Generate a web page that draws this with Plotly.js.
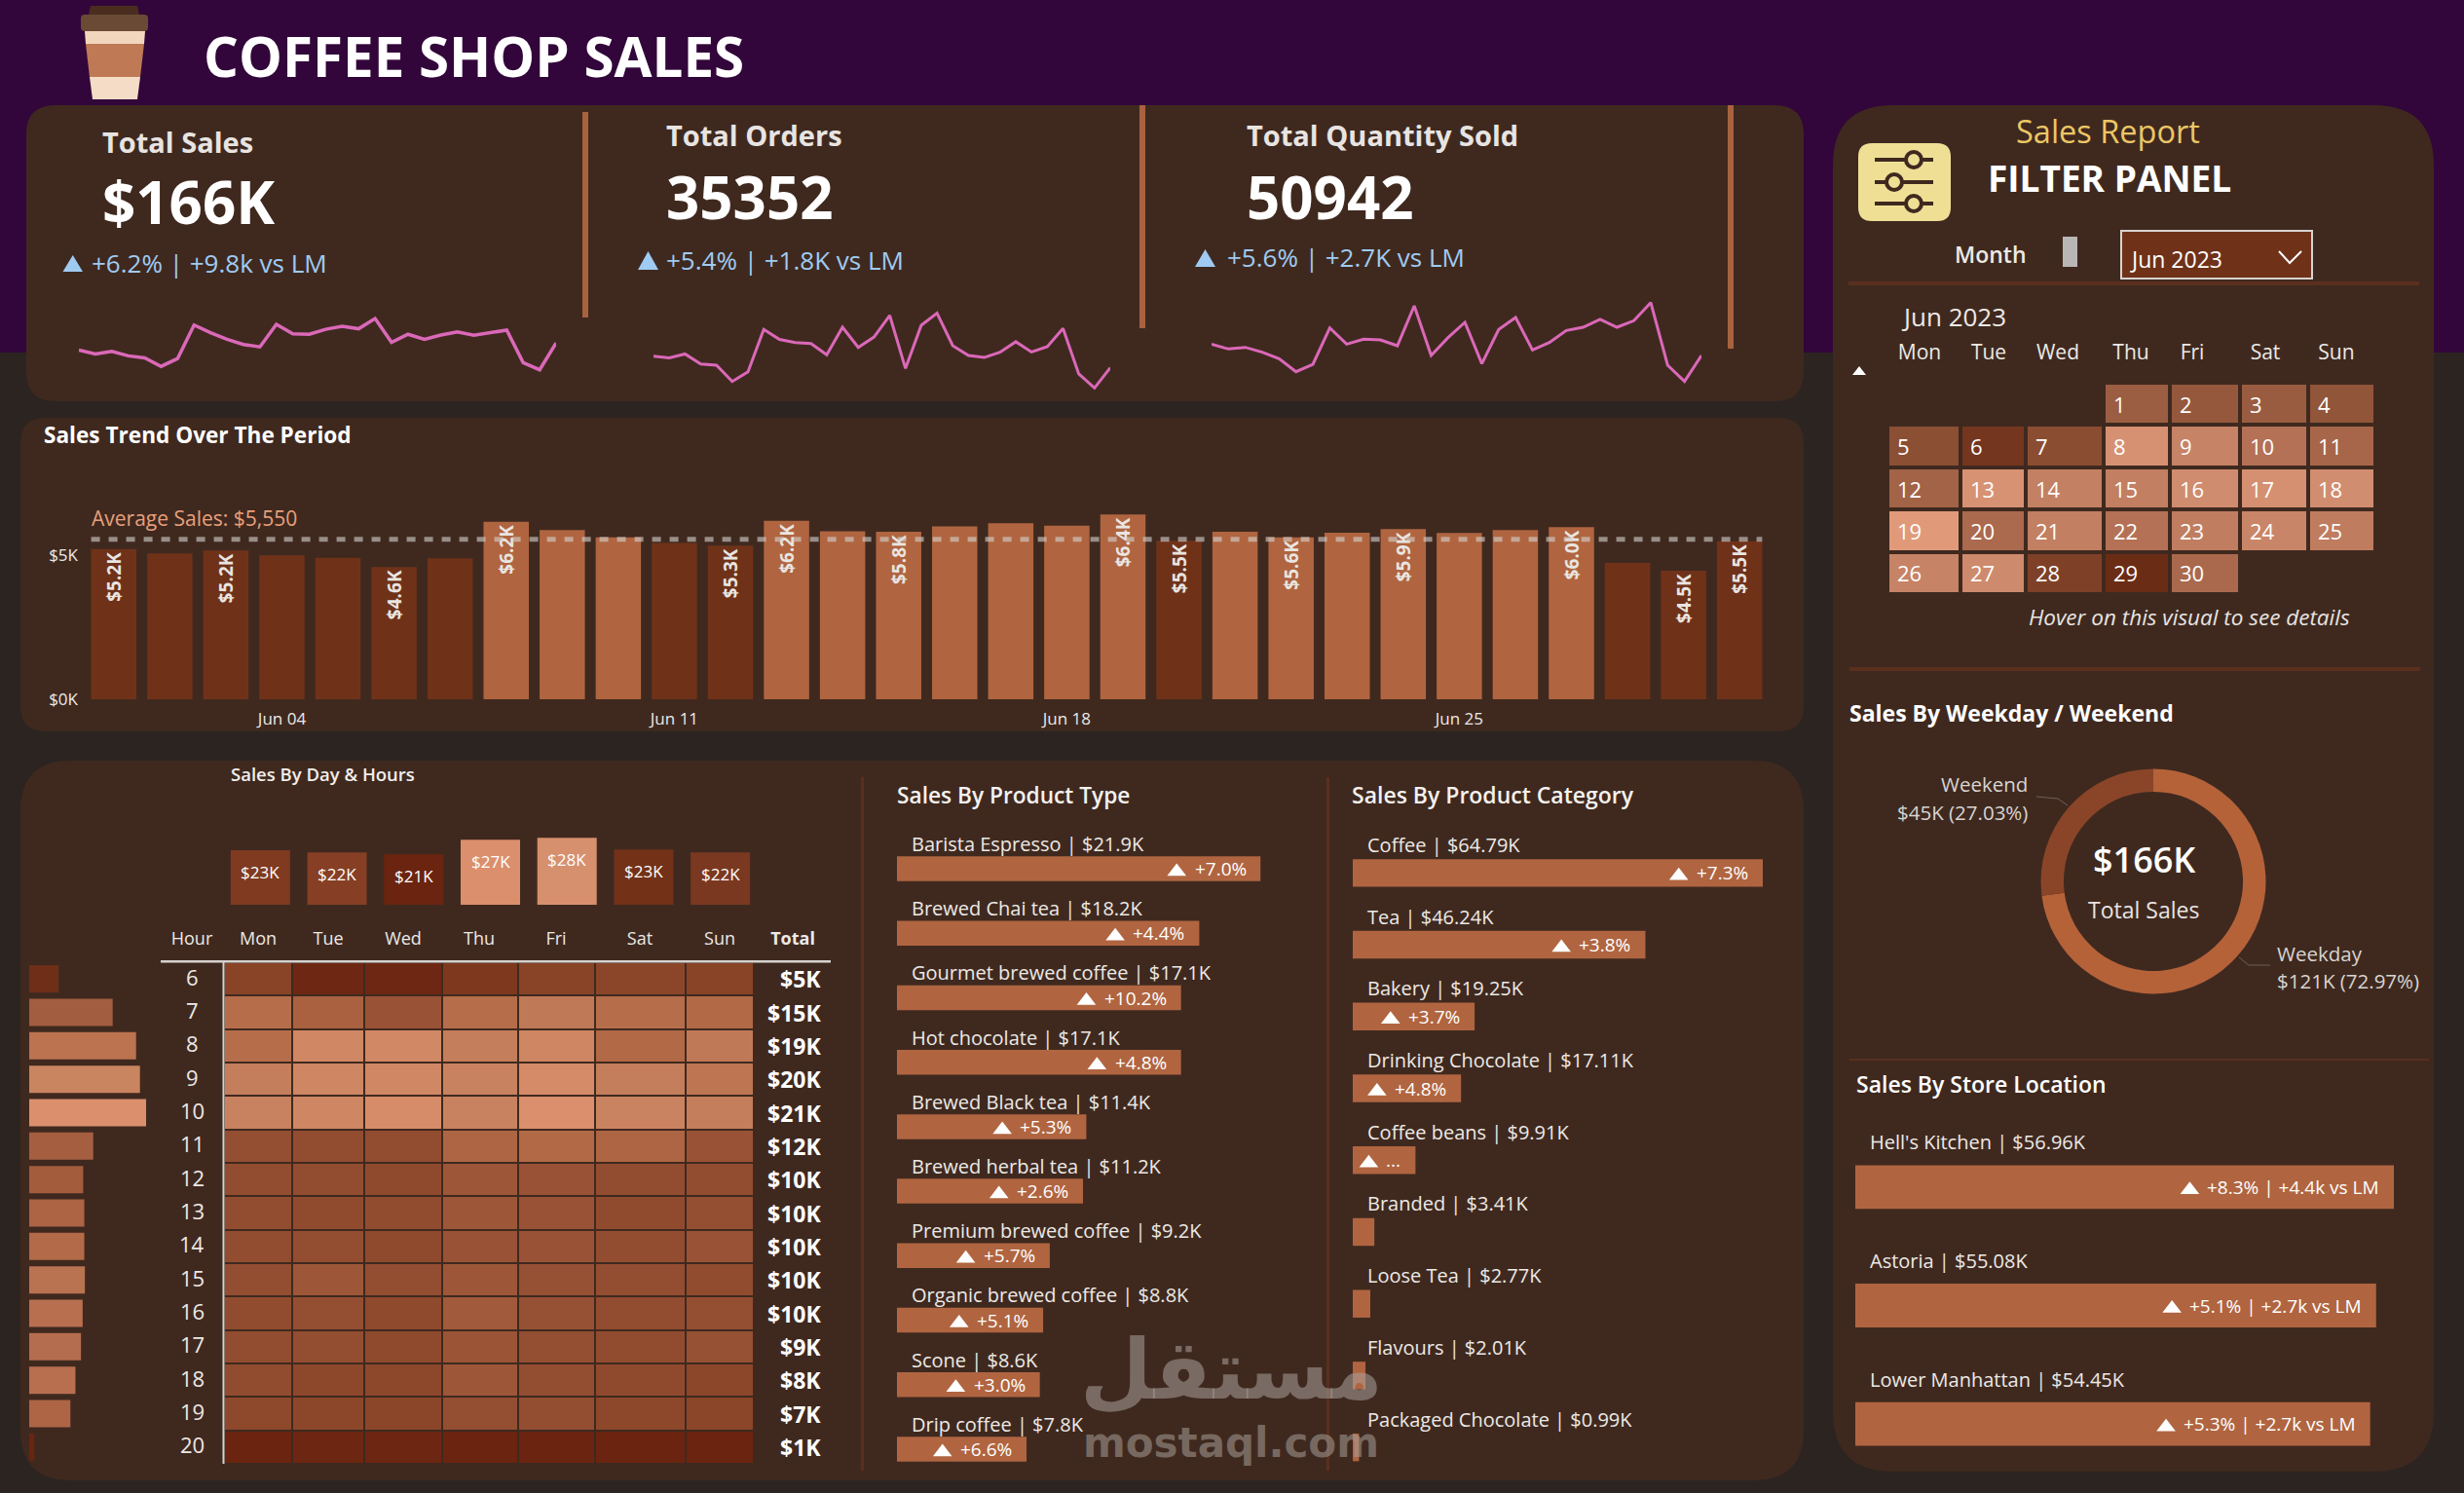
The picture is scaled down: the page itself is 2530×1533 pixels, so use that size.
<!DOCTYPE html>
<html><head><meta charset="utf-8">
<script src="https://cdn.plot.ly/plotly-3.0.1.min.js"></script>
<style>html,body{margin:0;padding:0;background:#2C2420}#c{width:2530px;height:1533px}</style>
</head><body><div id="c"></div>
<script>
// ---------- DATA ----------
const dailySales=[5.21,5.06,5.16,4.99,4.91,4.59,4.89,6.16,5.87,5.62,5.42,5.33,6.19,5.83,5.81,6.0,6.11,6.02,6.41,5.5,5.81,5.62,5.78,5.9,5.77,5.87,5.97,4.73,4.46,5.48];
const labeledDays=[1,3,6,8,12,13,15,19,20,22,24,27,29,30];
const averageSales=5.55;
const dailyOrders=[1149,1142,1158,1118,1113,1048,1087,1256,1216,1204,1200,1155,1265,1184,1226,1312,1100,1273,1321,1191,1152,1144,1165,1207,1166,1187,1260,1078,1022,1103];
const dailyQuantity=[1698,1668,1678,1648,1608,1528,1574,1798,1698,1728,1724,1688,1934,1628,1738,1832,1578,1788,1862,1662,1708,1782,1802,1850,1802,1842,1954,1568,1468,1628];
const kpiNames=["Total Sales","Total Orders","Total Quantity Sold"];
const kpiValues=["$166K","35352","50942"];
const kpiDeltas=["+6.2% | +9.8k vs LM","+5.4% | +1.8K vs LM","+5.6% | +2.7K vs LM"];
const weekdayNames=["Mon","Tue","Wed","Thu","Fri","Sat","Sun"];
const hours=[6,7,8,9,10,11,12,13,14,15,16,17,18,19,20];
const hourDaySales=[
[.85,.35,.35,.65,.85,.9,.85],
[2.2,1.9,1.5,2.2,2.5,2.2,2.1],
[2.2,3.1,3.2,2.6,3.0,2.1,2.5],
[2.6,3.0,3.1,2.7,3.4,2.6,2.4],
[2.7,3.0,3.5,2.7,3.7,2.8,2.6],
[1.4,1.3,1.3,2.0,2.1,2.0,1.5],
[1.3,1.3,1.15,1.6,1.5,1.3,1.3],
[1.3,1.2,1.25,1.6,1.5,1.2,1.4],
[1.3,1.35,1.15,1.5,1.5,1.3,1.5],
[1.35,1.6,1.35,1.6,1.45,1.35,1.25],
[1.25,1.4,1.1,1.7,1.45,1.3,1.4],
[1.3,1.35,1.1,1.55,1.4,1.25,1.45],
[1.25,1.0,1.0,1.6,1.35,1.15,.95],
[1.05,.95,.9,1.4,1.35,1.0,.9],
[.15,.3,.3,.15,.15,.15,.15]];
const hourTotals=[5.3,15,19.2,19.9,21,11.5,9.7,9.9,9.9,10,9.6,9.3,8.3,7.4,0.9];
const dayTotals=[23,22.1,21.3,27.4,28.3,23.3,22.1];
const productTypes=["Barista Espresso","Brewed Chai tea","Gourmet brewed coffee","Hot chocolate","Brewed Black tea","Brewed herbal tea","Premium brewed coffee","Organic brewed coffee","Scone","Drip coffee"];
const productTypeSales=[21.9,18.2,17.1,17.1,11.4,11.2,9.2,8.8,8.6,7.8];
const productTypeDelta=["+7.0%","+4.4%","+10.2%","+4.8%","+5.3%","+2.6%","+5.7%","+5.1%","+3.0%","+6.6%"];
const categories=["Coffee","Tea","Bakery","Drinking Chocolate","Coffee beans","Branded","Loose Tea","Flavours","Packaged Chocolate"];
const categorySales=[64.79,46.24,19.25,17.11,9.91,3.41,2.77,2.01,0.99];
const categoryDelta=["+7.3%","+3.8%","+3.7%","+4.8%","...",null,null,null,null];
const stores=["Hell's Kitchen","Astoria","Lower Manhattan"];
const storeSales=[56.96,55.08,54.45];
const storeDelta=["+8.3% | +4.4k vs LM","+5.1% | +2.7k vs LM","+5.3% | +2.7k vs LM"];
const weekSplitLabels=["Weekday","Weekend"];
const weekSplitValues=[72.97,27.03];

// ---------- LAYOUT HELPERS ----------
const W=2530,H=1533,FONT='"Open Sans","Noto Sans",sans-serif';
const PANEL='#3F291F',LIGHT='#B06540',DARK='#6F3219',SEP='#5A2F1E',TXT='#EDE9E6';
const fx=x=>x/W, fy=y=>1-y/H;
const shapes=[],annotations=[],traces=[],axes={};
const measureCtx=document.createElement('canvas').getContext('2d');
const textWidth=(s,size)=>{measureCtx.font=size+'px "Open Sans"';return measureCtx.measureText(s).width;};
function rr(x0,y0,x1,y1,r,fill,layer){
  const p=(x,y)=>fx(x)+','+fy(y);
  shapes.push({type:'path',xref:'paper',yref:'paper',layer:layer||'below',fillcolor:fill,line:{width:0},
   path:`M${p(x0+r,y0)} L${p(x1-r,y0)} Q${p(x1,y0)} ${p(x1,y0+r)} L${p(x1,y1-r)} Q${p(x1,y1)} ${p(x1-r,y1)} L${p(x0+r,y1)} Q${p(x0,y1)} ${p(x0,y1-r)} L${p(x0,y0+r)} Q${p(x0,y0)} ${p(x0+r,y0)} Z`});
}
function poly(pts,fill,layer,line){
  const s=pts.map((q,i)=>(i?'L':'M')+fx(q[0])+','+fy(q[1])).join(' ')+(fill?' Z':'');
  shapes.push({type:'path',xref:'paper',yref:'paper',layer:layer||'below',path:s,fillcolor:fill||'rgba(0,0,0,0)',line:line||{width:0}});
}
function box(x0,y0,x1,y1,fill,layer,line){
  shapes.push({type:'rect',xref:'paper',yref:'paper',layer:layer||'below',x0:fx(x0),x1:fx(x1),y0:fy(y0),y1:fy(y1),fillcolor:fill,line:line||{width:0}});
}
function T(text,x,y,size,o){o=o||{};
  const a=o.anchor||'left';
  annotations.push({text,xref:'paper',yref:'paper',x:fx(a==='left'?x-2.5:x),y:fy(y),xanchor:a,yanchor:'middle',showarrow:false,
   font:{family:o.family||FONT,size,color:o.color||TXT,weight:o.weight||400,style:o.style||'normal'}});
}
function A(n,text,x,y,size,o){o=o||{};
  annotations.push({text,xref:'x'+n,yref:'y'+n,x,y,xanchor:o.anchor||'left',yanchor:'middle',xshift:o.dx||0,yshift:o.dy||0,showarrow:false,
   font:{family:FONT,size,color:o.color||TXT,weight:o.weight||400}});
}
function sub(n,dx,dy,xo,yo){
  axes['xaxis'+n]=Object.assign({domain:[fx(dx[0]),fx(dx[1])],anchor:'y'+n,visible:false,fixedrange:true},xo||{});
  axes['yaxis'+n]=Object.assign({domain:[fy(dy[1]),fy(dy[0])],anchor:'x'+n,visible:false,fixedrange:true},yo||{});
  return {xaxis:'x'+n,yaxis:'y'+n};
}
const hbarLabels=(n,names,vals,deltas,fmt,labelUp,labelRight,deltaSize,labelSize,pxPerUnit,rowPx)=>{
  const tx=[],ty=[];
  names.forEach((nm,i)=>{
    A(n,nm+' | $'+vals[i].toFixed(fmt)+'K',0,i,labelSize,{dx:labelRight,dy:labelUp});
    if(deltas[i]){
      A(n,deltas[i],vals[i],i,deltaSize,{anchor:'right',dx:-13,color:'#FFFFFF'});
      tx.push(vals[i]-(13+textWidth(deltas[i],deltaSize)+20)/pxPerUnit);ty.push(i+3/rowPx);
    }
  });
  traces.push({type:'scatter',mode:'markers',xaxis:'x'+n,yaxis:'y'+n,x:tx,y:ty,hoverinfo:'skip',cliponaxis:false,
    marker:{symbol:'triangle-up',size:17,color:'#FFFFFF',line:{width:0}}});
};

// ---------- BACKGROUND / PANELS ----------
box(0,0,W,362,'#32063A');
rr(27,108,1852,412,30,PANEL);
rr(1882,108,2499,1511,62,PANEL);
rr(21,429,1852,751,26,PANEL);
rr(21,781,1852,1520,52,PANEL);

// coffee cup
poly([[93,6],[141,6],[143,15],[91,15]],'#4A2D1E');
rr(83,15,152,32,4,'#6B4A35');
poly([[87,32],[149,32],[148,45],[88,45]],'#F2D6BE');
poly([[88,45],[148,45],[144,79],[92,79]],'#BF7A55');
poly([[92,79],[144,79],[141,102],[95,102]],'#F4DCC6');
T('COFFEE SHOP SALES',209,57,56.5,{color:'#FFFFFF',weight:700});

// ---------- KPI ----------
const kpiX=[105,684,1280],kpiDX=[94,684,1260],kpiLabelY=[145,138,138],kpiValY=[207,202,202],kpiDY=[270,267,264];
const kpiTri=[[64.5,85,262,279],[655,676,258,277],[1227,1248,256,274]];
kpiNames.forEach((n,i)=>{
  T(n,kpiX[i],kpiLabelY[i],29,{weight:700,color:'#E8E4E1'});
  T(kpiValues[i],kpiX[i],kpiValY[i],60,{weight:700,color:'#FFFFFF'});
  T(kpiDeltas[i],kpiDX[i],kpiDY[i],26,{color:'#9FCBF2'});
  const t=kpiTri[i];poly([[t[0],t[3]],[t[1],t[3]],[(t[0]+t[1])/2,t[2]]],'#9FCBF2');
});
box(598,115,604,326,'#A8623E');box(1170,108,1176,337,'#A8623E');box(1774,108,1780,358,'#A8623E');
const sparkColor='#DB68B8';
const days=dailySales.map((_,i)=>i+1);
traces.push(Object.assign({type:'scatter',mode:'lines',x:days,y:dailySales,line:{color:sparkColor,width:3.5},hoverinfo:'skip'},
  sub(1,[81,571],[320,387],{range:[1,30]},{range:[4.19,6.67]})));
traces.push(Object.assign({type:'scatter',mode:'lines',x:days,y:dailyOrders,line:{color:sparkColor,width:3},hoverinfo:'skip'},
  sub(2,[671,1140],[315,405],{range:[1,30]},{range:[996,1347]})));
traces.push(Object.assign({type:'scatter',mode:'lines',x:days,y:dailyQuantity,line:{color:sparkColor,width:3},hoverinfo:'skip'},
  sub(3,[1244,1747],[304,398],{range:[1,30]},{range:[1430,1994]})));

// ---------- TREND ----------
T('Sales Trend Over The Period',45,447,22.6,{weight:700,color:'#FFFFFF'});
const dates=days.map(d=>'2023-06-'+String(d).padStart(2,'0'));
traces.push(Object.assign({type:'bar',x:dates,y:dailySales,width:86400000*0.808,hoverinfo:'skip',
  marker:{color:dailySales.map(v=>v>=averageSales?LIGHT:DARK),line:{width:0}},
  text:dailySales.map((v,i)=>labeledDays.includes(i+1)?'$'+v.toFixed(1)+'K':''),
  textposition:'inside',insidetextanchor:'end',textangle:-90,constraintext:'none',
  textfont:{family:FONT,size:19,color:'#E9E5E1',weight:700}},
  sub(4,[88,1815],[498,718],
   {visible:true,type:'date',range:['2023-05-31 12:00','2023-06-30 12:00'],tick0:'2023-06-04',dtick:7*86400000,tickformat:'%b %d',
    showgrid:false,zeroline:false,showline:false,ticks:'',ticklabelstandoff:8,tickfont:{family:FONT,size:17,color:TXT}},
   {visible:true,range:[0,7.432],tickvals:[0,5],ticktext:['$0K','$5K'],showgrid:false,zeroline:false,showline:false,ticks:'',ticklabelstandoff:7,tickfont:{family:FONT,size:17,color:TXT}})));
shapes.push({type:'line',xref:'x4',yref:'y4',layer:'above',x0:'2023-05-31 14:20',x1:'2023-06-30 09:40',y0:averageSales,y1:averageSales,
  line:{color:'rgba(214,210,206,0.6)',width:5,dash:'9px,9px'}});
T('Average Sales: $5,550',94,532,21,{color:'#E8A07C'});

// ---------- DAY & HOUR ----------
T('Sales By Day & Hours',237,794,18.5,{weight:600,color:'#F2EEEB'});
const dayTileColors=['#7F3A20','#863F24','#6B2410','#DB8F6C','#D6906E','#733118','#7A3820'];
traces.push(Object.assign({type:'bar',x:weekdayNames,y:dayTotals,width:0.775,hoverinfo:'skip',marker:{color:dayTileColors,line:{width:0}}},
  sub(7,[228,779],[856,929],{type:'category',range:[-0.5,6.5]},{range:[0,30]})));
weekdayNames.forEach((d,i)=>A(7,'$'+Math.round(dayTotals[i])+'K',i,dayTotals[i],17,{anchor:'center',dy:-22,color:'#FFFFFF'}));
const colEdges=[230,299.5,374,453.5,531.5,610.5,703.5,774];
const colCenters=[265,337,414,492,571,657,739];
const heatScale=[[0,'#6B2410'],[.07,'#6F2812'],[.2,'#8A4528'],[.35,'#944E32'],[.55,'#B26946'],[.72,'#C8825F'],[1,'#DB8F6C']];
traces.push(Object.assign({type:'heatmap',x:colEdges,y:hours,z:hourDaySales,zmin:.15,zmax:3.7,colorscale:heatScale,showscale:false,xgap:2,ygap:2,hoverinfo:'skip'},
  sub(5,[165,853],[988,1503],
   {visible:true,side:'top',range:[165,853],tickvals:[197].concat(colCenters,[814]),ticktext:['Hour'].concat(weekdayNames,['<b>Total</b>']),
    showgrid:false,zeroline:false,showline:false,ticks:'',ticklabelstandoff:13,tickfont:{family:FONT,size:18,color:TXT}},
   {range:[20.5,5.5]})));
hours.forEach((h,i)=>{
  A(5,String(h),197,h,22,{anchor:'center',dy:2.5});
  A(5,'$'+Math.round(hourTotals[i])+'K',845,h,23,{anchor:'right',dy:0,color:'#FFFFFF',weight:700});
});
const hourBarColors=['#6F2E18','#A25C3F','#BB7350','#C98560','#DB8F6C','#A55F40','#A35C3C','#AC6444','#B26A48','#BA7350','#B86F50','#B56D4F','#B86F50','#AD6545','#6B2410'];
traces.push(Object.assign({type:'bar',orientation:'h',x:hourTotals,y:hours,width:0.816,hoverinfo:'skip',marker:{color:hourBarColors,line:{width:0}}},
  sub(6,[30,150],[988,1503],{range:[0,21]},{range:[20.5,5.5]})));
box(165,986,853,988.5,'#D6D2CF','above');
box(228.5,988,230.5,1503,'#D6D2CF','above');

// ---------- PRODUCT TYPE ----------
box(884,798,887,1510,SEP);box(1362,798,1365,1510,SEP);
T('Sales By Product Type',921,816,22.7,{weight:600,color:'#F5F1EE'});
T('Sales By Product Category',1389,816,23,{weight:600,color:'#F5F1EE'});
traces.push(Object.assign({type:'bar',orientation:'h',x:productTypeSales,y:productTypes.map((_,i)=>i),width:0.385,hoverinfo:'skip',marker:{color:LIGHT,line:{width:0}}},
  sub(8,[921,1294.5],[859,1521],{range:[0,21.9]},{range:[9.5,-0.5]})));
hbarLabels(8,productTypes,productTypeSales,productTypeDelta,1,25.6,13,19,20,373.5/21.9,66.2);
traces.push(Object.assign({type:'bar',orientation:'h',x:categorySales,y:categories.map((_,i)=>i),width:0.386,hoverinfo:'skip',marker:{color:LIGHT,line:{width:0}}},
  sub(9,[1389,1810],[859.5,1523],{range:[0,64.79]},{range:[8.5,-0.5]})));
hbarLabels(9,categories,categorySales,categoryDelta,2,29,13,19,20,421/64.79,73.75);

// ---------- FILTER PANEL ----------
T('Sales Report',2070,135,32.5,{color:'#EBC765'});
rr(1908,147,2003,227,14,'#EEDF95');
[164,187,209].forEach((y,i)=>{
  box(1925,y-2,1985,y+2,'#3F291F');
  const cx=i==1?1945:1965;
  shapes.push({type:'circle',xref:'paper',yref:'paper',layer:'below',x0:fx(cx-8),x1:fx(cx+8),y0:fy(y+8),y1:fy(y-8),fillcolor:'#EEDF95',line:{color:'#3F291F',width:4}});
});
T('FILTER PANEL',2041,183,37,{weight:700,color:'#FFFFFF'});
T('Month',2007,261,23,{weight:600});
box(2118,243,2133,274,'#B9B6B6');
box(2178,237,2374,286,DARK,'below',{color:'#D8D4D0',width:2});
T('Jun 2023',2187,266,23,{color:'#FFFFFF'});
poly([[2340,258],[2351,270],[2363,258]],null,'below',{color:'#FFFFFF',width:2});
box(1898,289,2484,293,SEP);
T('Jun 2023',1952,325,26);
poly([[1902,385],[1916,385],[1909,376]],'#FFFFFF');

// calendar
const calEdges=[1938,2013,2080,2160,2228,2300,2370,2439];
const calCenters=[1971,2042,2113,2188,2251,2326,2399];
const calZ=[0,1,2,3,4].map(()=>[null,null,null,null,null,null,null]);
const calScale=[[0,'#6B2C16'],[.28,'#92563A'],[.54,'#AC6A4E'],[.79,'#D08C6E'],[1,'#E09A7A']];
const calSub=sub(11,[1938,2439],[393,610],
   {visible:true,side:'top',range:[1938,2439],tickvals:calCenters,ticktext:weekdayNames,showgrid:false,zeroline:false,showline:false,ticks:'',ticklabelstandoff:19,tickfont:{family:FONT,size:21,color:TXT}},
   {range:[4.5,-0.5]});
dailySales.forEach((v,i)=>{const pos=i+3,r=Math.floor(pos/7),c=pos%7;calZ[r][c]=v;
  A(11,String(i+1),calEdges[c]+8,r,22,{dy:0,color:'#FFFFFF'});});
traces.push(Object.assign({type:'heatmap',x:calEdges,y:[0,1,2,3,4],z:calZ,zmin:4.46,zmax:6.41,colorscale:calScale,showscale:false,xgap:4,ygap:4,hoverinfo:'skip'},calSub));
T('Hover on this visual to see details',2083,633,22.5,{style:'italic',color:'#E8E4E1'});
box(1899,685,2485,689,SEP);

// donut
T('Sales By Weekday / Weekend',1899,732,23,{weight:700,color:'#FFFFFF'});
traces.push({type:'pie',labels:weekSplitLabels,values:weekSplitValues,hole:.797,sort:false,direction:'clockwise',rotation:0,textinfo:'none',hoverinfo:'skip',showlegend:false,automargin:false,
  marker:{colors:['#B56239','#8A4528'],line:{width:0}},domain:{x:[fx(2211-115.5),fx(2211+115.5)],y:[fy(905+115.5),fy(905-115.5)]}});
T('$166K',2201,882,36,{anchor:'center',weight:600,color:'#FFFFFF'});
T('Total Sales',2201,934,23,{anchor:'center',color:'#E8E4E1'});
T('Weekend',2084,805,20.5,{anchor:'right',color:'#D8D4D0'});
T('$45K (27.03%)',2084,834,20.5,{anchor:'right',color:'#D8D4D0'});
T('Weekday',2338,979,20.5,{color:'#D8D4D0'});
T('$121K (72.97%)',2338,1007,20.5,{color:'#D8D4D0'});
poly([[2091,818],[2113,820],[2123,827]],null,'below',{color:'#6E5F55',width:1});
poly([[2299,983],[2309,991],[2331,991]],null,'below',{color:'#6E5F55',width:1});
box(1899,1087,2494,1089,SEP);

// store
T('Sales By Store Location',1906,1113,23,{weight:600,color:'#FFFFFF'});
traces.push(Object.assign({type:'bar',orientation:'h',x:storeSales,y:stores.map((_,i)=>i),width:0.368,hoverinfo:'skip',marker:{color:LIGHT,line:{width:0}}},
  sub(10,[1905,2458],[1158,1523],{range:[0,56.96]},{range:[2.5,-0.5]})));
hbarLabels(10,stores,storeSales,storeDelta,2,46,13,19,20,553/56.96,121.7);

// watermark
T('مستقل',1264,1406,85,{anchor:'center',family:'"DejaVu Sans",sans-serif',weight:700,color:'rgba(170,160,155,0.55)'});
T('mostaql.com',1264,1481,42,{anchor:'center',family:'"DejaVu Sans",sans-serif',weight:700,color:'rgba(170,160,155,0.55)'});

const layout=Object.assign({width:W,height:H,margin:{l:0,r:0,t:0,b:0},paper_bgcolor:'#2C2420',plot_bgcolor:'rgba(0,0,0,0)',showlegend:false,font:{family:FONT,color:TXT},shapes,annotations,barmode:'overlay'},axes);
Plotly.newPlot('c',traces,layout,{displayModeBar:false,staticPlot:true});
</script></body></html>
